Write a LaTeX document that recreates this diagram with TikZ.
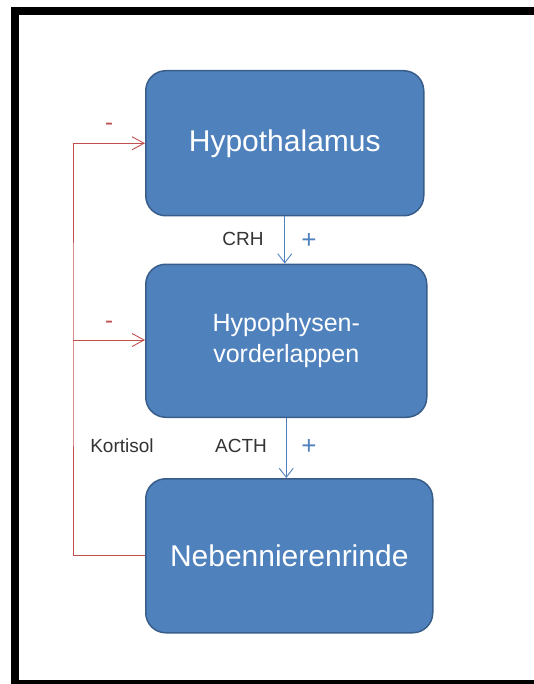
\documentclass[tikz,border=0pt]{standalone}
\usepackage{fontspec}
\setmainfont{Liberation Sans}
\usetikzlibrary{positioning,arrows.meta}
\definecolor{boxblue}{HTML}{4F81BD}
\definecolor{boxborder}{HTML}{385D8A}
\definecolor{loopred}{HTML}{C0504D}
\begin{document}
\begin{tikzpicture}[x=1pt, y=-1pt,
  block/.style={rectangle, rounded corners=20pt, fill=boxblue, draw=boxborder, line width=1.5pt, text=white, align=center, anchor=north west},
  bigtext/.style={font=\fontsize{30}{36}\selectfont},
  stimulus/.style={-{Straight Barb[length=9pt,width=14pt]}, draw=boxblue, line width=0.9pt},
  feedback/.style={-{Straight Barb[length=12pt,width=13pt]}, draw=loopred, line width=0.9pt},
  hormon/.style={text=black!80, font=\fontsize{19}{23}\selectfont},
  plus/.style={text=boxblue, font=\fontsize{26}{30}\selectfont},
  minus/.style={text=loopred, font=\fontsize{24}{28}\selectfont}]
\useasboundingbox (0,0) rectangle (534,684);

% Rahmen
\fill[black] (11,7) rectangle (534,15);
\fill[black] (11,7) rectangle (19,684);
\fill[black] (11,680) rectangle (534,684);

% Drei Ebenen
\node (hypothalamus) [block, bigtext, minimum width=278pt, minimum height=145pt] at (145,70) {Hypothalamus};
\node (hypophyse) [block, font=\fontsize{25}{31}\selectfont, minimum width=281pt, minimum height=153pt, below=47pt of hypothalamus.south west, anchor=north west] {Hypophysen-\\vorderlappen};
\node (nnr) [block, bigtext, minimum width=287pt, minimum height=154pt, below=60pt of hypophyse.south west, anchor=north west] {Nebennierenrinde};

% Stimulation
\draw[stimulus] (hypothalamus.south) -- (hypothalamus.south |- hypophyse.north);
\draw[stimulus] (hypophyse.south) -- (hypophyse.south |- nnr.north);

% Rueckkopplung
\coordinate (knick) at (73,340);
\draw[feedback] (nnr.west) -| (knick) |- (hypothalamus.west);
\draw[feedback] (knick) -- (knick -| hypophyse.west);

% Beschriftung
\node (crh) [hormon] at (243,239) {CRH};
\node (crhplus) [plus] at (309,241) {+};
\node (acth) [hormon] at (241,446) {ACTH};
\node (acthplus) [plus] at (309,447) {+};
\node (kortisol) [hormon] at (122,446) {Kortisol};
\node (minusoben) [minus] at (109,127) {-};
\node (minusmitte) [minus] at (109,325) {-};

\end{tikzpicture}
\end{document}
